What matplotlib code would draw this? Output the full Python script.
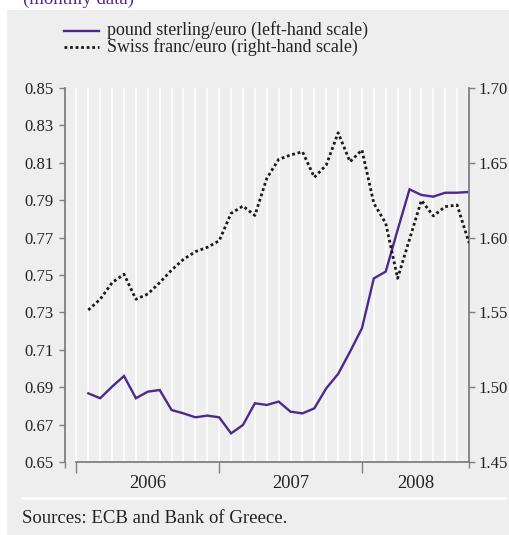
import matplotlib
matplotlib.use("Agg")
import matplotlib.pyplot as plt
from matplotlib.patches import Rectangle
from matplotlib.lines import Line2D

# ---- data (monthly, Jan 2006 - Sep 2008) ----
gbp_eur = [0.6867, 0.6841, 0.6903, 0.6960, 0.6841, 0.6876, 0.6885, 0.6778, 0.6760, 0.6739, 0.6748, 0.6739,
           0.6653, 0.6698, 0.6814, 0.6805, 0.6823, 0.6769, 0.6760, 0.6787, 0.6894, 0.6971, 0.7090, 0.7215,
           0.7482, 0.7518, 0.7741, 0.7958, 0.7928, 0.7919, 0.7940, 0.7940, 0.7944]
chf_eur = [1.5516, 1.5588, 1.5699, 1.5755, 1.5588, 1.5623, 1.5699, 1.5783, 1.5855, 1.5906, 1.5935, 1.5979,
           1.6162, 1.6211, 1.6148, 1.6396, 1.6523, 1.6552, 1.6574, 1.6403, 1.6485, 1.6701, 1.6507, 1.6586,
           1.6229, 1.6096, 1.5728, 1.5989, 1.6249, 1.6145, 1.6207, 1.6218, 1.5965]
years = ["2006", "2007", "2008"]
year_bounds = [-1, 11, 23, 32]
left_ticks = [0.65, 0.67, 0.69, 0.71, 0.73, 0.75, 0.77, 0.79, 0.81, 0.83, 0.85]
right_ticks = [1.45, 1.50, 1.55, 1.60, 1.65, 1.70]
legend_labels = ["pound sterling/euro (left-hand scale)", "Swiss franc/euro (right-hand scale)"]

W, H = 509, 535
DPI = 100
plt.rcParams['font.family'] = ['Liberation Serif', 'DejaVu Serif']
BG = '#eeeeee'
PURPLE = '#4b2a8c'
SPINE = '#7f7f7f'
TXT = '#222222'

fig = plt.figure(figsize=(W / DPI, H / DPI), dpi=DPI, facecolor='white')

def fx(px):
    return px / W

def fy(py):
    return 1 - py / H

# grey panel
fig.patches.append(Rectangle((fx(7), 0), 1 - fx(7), fy(10), transform=fig.transFigure,
                             facecolor=BG, edgecolor='none', zorder=-5))
# subtitle, cut off at the top edge as in the reference
fig.text(fx(23), fy(4), "(monthly data)", color=PURPLE, fontsize=13.5, va='baseline', ha='left')
# separator line
fig.add_artist(Line2D([fx(22), fx(505)], [fy(498), fy(498)], color='white', lw=1.8,
                      transform=fig.transFigure))
fig.text(fx(22), fy(523), "Sources: ECB and Bank of Greece.", fontsize=13.5, color=TXT,
         va='baseline', ha='left')

# axes
left, right, top, bottom = 65, 469, 88, 462
ax = fig.add_axes([fx(left), fy(bottom), fx(right) - fx(left), fy(top) - fy(bottom)])
ax.set_facecolor(BG)
x = list(range(len(gbp_eur)))
xl = -1.96
ax.set_xlim(xl, 32)
ax.set_ylim(0.65, 0.85)

for g in range(-1, 32):
    ax.axvline(g, color='white', lw=1.1, zorder=1)

ax.plot(x, gbp_eur, color=PURPLE, lw=1.7, zorder=3, solid_joinstyle='miter')
ax2 = ax.twinx()
ax2.set_ylim(1.45, 1.70)
ax2.plot(x, chf_eur, color='#1a1a1a', lw=2.0, linestyle=(0, (1, 1.0)), zorder=3)

for a in (ax, ax2):
    a.spines['top'].set_visible(False)
    for s in ('left', 'right', 'bottom'):
        a.spines[s].set_color(SPINE)
        a.spines[s].set_linewidth(1.3)
ax2.spines['left'].set_visible(False)
ax2.spines['bottom'].set_visible(False)
ax.spines['right'].set_visible(False)
ax.spines['bottom'].set_bounds(-1, 32)

ax.set_yticks(left_ticks)
ax.set_yticklabels([f"{v:.2f}" for v in left_ticks])
ax2.set_yticks(right_ticks)
ax2.set_yticklabels([f"{v:.2f}" for v in right_ticks])
ax.tick_params(axis='y', direction='out', length=4.3, width=1.0, color=SPINE, labelsize=12,
               pad=4, labelcolor=TXT)
ax2.tick_params(axis='y', direction='out', length=4.0, width=1.0, color=SPINE, labelsize=12,
                pad=3, labelcolor=TXT)

ax.set_xticks(year_bounds[:-1])
ax.set_xticklabels([])
ax.tick_params(axis='x', which='major', direction='out', length=8, width=1.0, color=SPINE)
ax.set_xticks([xl, 32], minor=True)
ax.tick_params(axis='x', which='minor', direction='out', length=4, width=1.0, color=SPINE)
for i, yr in enumerate(years):
    mid = (year_bounds[i] + year_bounds[i + 1]) / 2
    ax.text(mid, -0.058, yr, transform=ax.get_xaxis_transform(), ha='center', va='center',
            fontsize=13.3, color=TXT)

# legend
fig.add_artist(Line2D([fx(64), fx(99)], [fy(31), fy(31)], color=PURPLE, lw=1.7,
                      transform=fig.transFigure))
fig.add_artist(Line2D([fx(64), fx(99)], [fy(47), fy(47)], color='#1a1a1a', lw=2.0,
                      linestyle=(0, (1, 1.0)), transform=fig.transFigure))
fig.text(fx(107), fy(30), legend_labels[0], fontsize=12.9, va='center', ha='left', color=TXT)
fig.text(fx(107), fy(47), legend_labels[1], fontsize=12.9, va='center', ha='left', color=TXT)

fig.savefig("out.png", dpi=DPI, facecolor='white')
